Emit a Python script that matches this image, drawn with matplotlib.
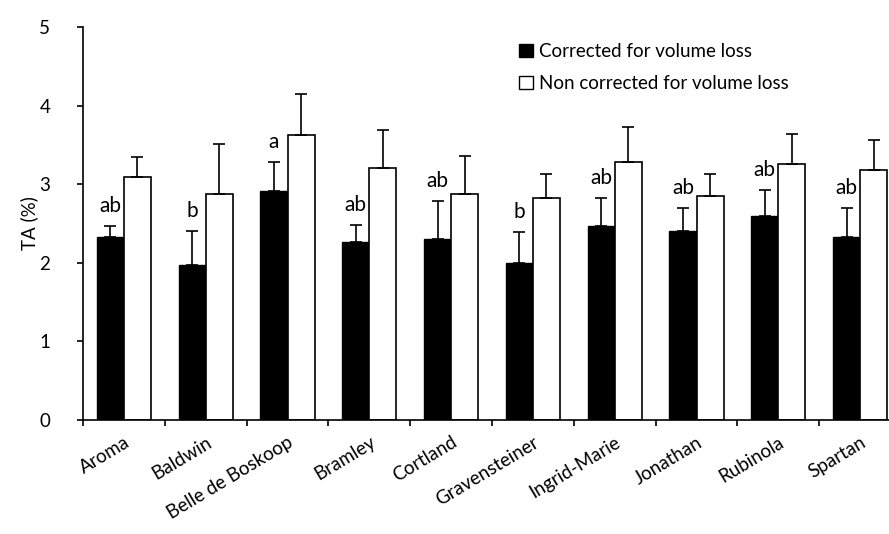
import matplotlib.pyplot as plt
import numpy as np
from matplotlib.patches import Patch

# Apple cultivars and titratable acidity (%)
cultivars = ['Aroma', 'Baldwin', 'Belle de Boskoop', 'Bramley', 'Cortland',
             'Gravensteiner', 'Ingrid-Marie', 'Jonathan', 'Rubinola', 'Spartan']
corrected = [2.33, 1.97, 2.91, 2.26, 2.30, 2.00, 2.47, 2.40, 2.59, 2.32]
corrected_err = [0.14, 0.43, 0.37, 0.22, 0.49, 0.39, 0.35, 0.30, 0.34, 0.38]
non_corrected = [3.09, 2.88, 3.63, 3.21, 2.88, 2.82, 3.28, 2.85, 3.26, 3.18]
non_corrected_err = [0.26, 0.63, 0.52, 0.48, 0.48, 0.31, 0.45, 0.28, 0.38, 0.38]
letters = ['ab', 'b', 'a', 'ab', 'ab', 'b', 'ab', 'ab', 'ab', 'ab']

plt.rcParams['font.family'] = ['Lato', 'DejaVu Sans']
fs = 13.5

fig = plt.figure(figsize=(8.89, 5.34), dpi=100)
ax = fig.add_axes([83/889, 1 - 419.7/534, 818/889, 392.7/534])

x = np.arange(len(cultivars))
w = 0.332
zeros = np.zeros(len(cultivars))
err_kw = dict(ecolor='black', elinewidth=1.2, capsize=4, capthick=1.2)

ax.bar(x - w/2, corrected, w, color='black', edgecolor='black', linewidth=1.0,
       yerr=[zeros, corrected_err], error_kw=err_kw, zorder=2)
ax.bar(x + w/2, non_corrected, w, color='white', edgecolor='black', linewidth=1.2,
       yerr=[zeros, non_corrected_err], error_kw=err_kw, zorder=2)

# significance letters above the corrected bars
for i, lab in enumerate(letters):
    ax.annotate(lab, (x[i] - w/2, corrected[i] + corrected_err[i]),
                xytext=(0, 10), textcoords='offset points',
                ha='center', va='baseline', fontsize=fs + 1.5)

ax.set_xlim(-0.5, len(cultivars) - 0.5)
ax.set_ylim(0, 5)
ax.set_yticks(range(6))
ax.set_ylabel('TA (%)', fontsize=fs, labelpad=1)

ax.set_xticks(x)
ax.set_xticklabels(cultivars, rotation=31, ha='right', rotation_mode='anchor',
                   fontsize=fs)
ax.set_xticks(np.arange(-0.5, len(cultivars)), minor=True)
ax.tick_params(axis='x', which='major', length=0, pad=10)
ax.tick_params(axis='x', which='minor', length=4.5, width=1.2, direction='out')
ax.tick_params(axis='y', length=4.5, width=1.2, direction='out', pad=19, labelsize=fs)

for s in ['top', 'right']:
    ax.spines[s].set_visible(False)
for s in ['left', 'bottom']:
    ax.spines[s].set_linewidth(1.2)

handles = [Patch(facecolor='black', edgecolor='black'),
           Patch(facecolor='white', edgecolor='black')]
fig.legend(handles, ['Corrected for volume loss', 'Non corrected for volume loss'],
           loc='upper left', bbox_to_anchor=(519/889, 1 - 43/534), frameon=False,
           fontsize=fs, handlelength=0.75, handleheight=0.75, handletextpad=0.3,
           labelspacing=0.8, borderaxespad=0, borderpad=0)

fig.savefig('out.png', dpi=100)
